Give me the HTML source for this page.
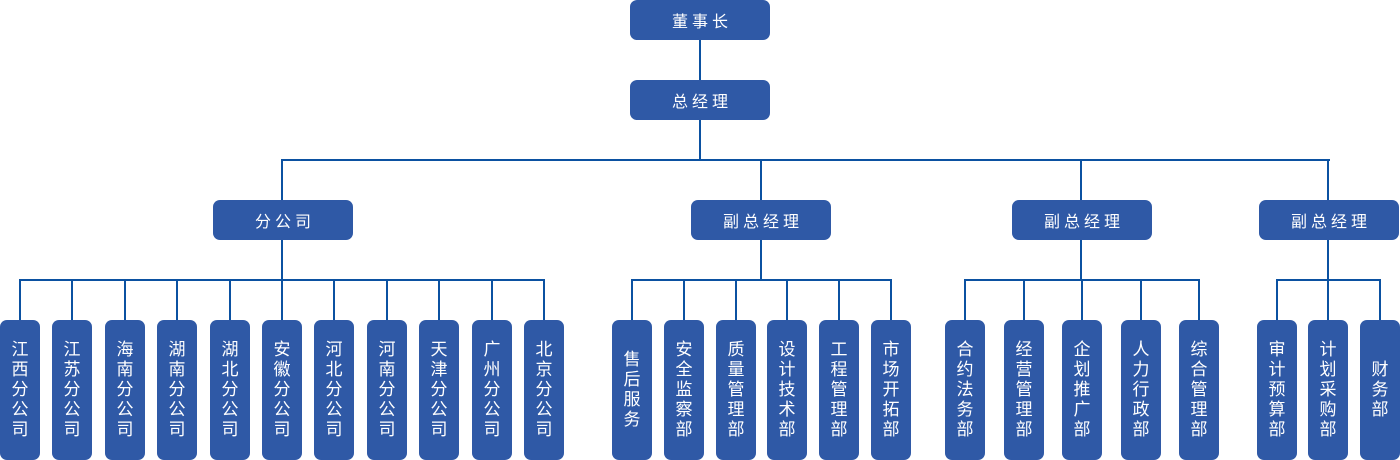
<!DOCTYPE html>
<html><head><meta charset="utf-8">
<style>
*{margin:0;padding:0;box-sizing:border-box}
html,body{width:1400px;height:460px;background:#fff;overflow:hidden}
body{position:relative;font-family:"Liberation Sans","Noto Sans CJK SC",sans-serif}
.b{position:absolute;background:#2f59a6;color:#fff;border-radius:7px;display:flex;align-items:center;justify-content:center;text-align:center}
.h{width:140px;height:40px;font-size:16px;letter-spacing:4px;text-indent:4px}
.l{width:40px;height:140px;top:320px;font-size:17px;line-height:20px}
.ln{position:absolute;background:#0b51a1}
</style></head><body>
<!-- lines -->
<div class="ln" style="left:699px;top:40px;width:2px;height:40px"></div>
<div class="ln" style="left:699px;top:120px;width:2px;height:40px"></div>
<div class="ln" style="left:281px;top:159px;width:1049px;height:2px"></div>
<div class="ln" style="left:281px;top:160px;width:2px;height:40px"></div>
<div class="ln" style="left:760px;top:160px;width:2px;height:40px"></div>
<div class="ln" style="left:1080px;top:160px;width:2px;height:40px"></div>
<div class="ln" style="left:1327px;top:160px;width:2px;height:40px"></div>
<div class="ln" style="left:281px;top:240px;width:2px;height:40px"></div>
<div class="ln" style="left:760px;top:240px;width:2px;height:40px"></div>
<div class="ln" style="left:1080px;top:240px;width:2px;height:40px"></div>
<div class="ln" style="left:1327px;top:240px;width:2px;height:40px"></div>
<div class="ln" style="left:19px;top:279px;width:526px;height:2px"></div>
<div class="ln" style="left:631px;top:279px;width:261px;height:2px"></div>
<div class="ln" style="left:964px;top:279px;width:236px;height:2px"></div>
<div class="ln" style="left:1276px;top:279px;width:105px;height:2px"></div>
<!-- leaf connectors -->
<div class="ln" style="left:19px;top:280px;width:2px;height:40px"></div>
<div class="ln" style="left:71px;top:280px;width:2px;height:40px"></div>
<div class="ln" style="left:124px;top:280px;width:2px;height:40px"></div>
<div class="ln" style="left:176px;top:280px;width:2px;height:40px"></div>
<div class="ln" style="left:229px;top:280px;width:2px;height:40px"></div>
<div class="ln" style="left:281px;top:280px;width:2px;height:40px"></div>
<div class="ln" style="left:333px;top:280px;width:2px;height:40px"></div>
<div class="ln" style="left:386px;top:280px;width:2px;height:40px"></div>
<div class="ln" style="left:438px;top:280px;width:2px;height:40px"></div>
<div class="ln" style="left:491px;top:280px;width:2px;height:40px"></div>
<div class="ln" style="left:543px;top:280px;width:2px;height:40px"></div>
<div class="ln" style="left:631px;top:280px;width:2px;height:40px"></div>
<div class="ln" style="left:683px;top:280px;width:2px;height:40px"></div>
<div class="ln" style="left:735px;top:280px;width:2px;height:40px"></div>
<div class="ln" style="left:786px;top:280px;width:2px;height:40px"></div>
<div class="ln" style="left:838px;top:280px;width:2px;height:40px"></div>
<div class="ln" style="left:890px;top:280px;width:2px;height:40px"></div>
<div class="ln" style="left:964px;top:280px;width:2px;height:40px"></div>
<div class="ln" style="left:1023px;top:280px;width:2px;height:40px"></div>
<div class="ln" style="left:1081px;top:280px;width:2px;height:40px"></div>
<div class="ln" style="left:1140px;top:280px;width:2px;height:40px"></div>
<div class="ln" style="left:1198px;top:280px;width:2px;height:40px"></div>
<div class="ln" style="left:1276px;top:280px;width:2px;height:40px"></div>
<div class="ln" style="left:1327px;top:280px;width:2px;height:40px"></div>
<div class="ln" style="left:1379px;top:280px;width:2px;height:40px"></div>
<!-- header boxes -->
<div class="b h" style="left:630px;top:0">董事长</div>
<div class="b h" style="left:630px;top:80px">总经理</div>
<div class="b h" style="left:213px;top:200px">分公司</div>
<div class="b h" style="left:691px;top:200px">副总经理</div>
<div class="b h" style="left:1012px;top:200px">副总经理</div>
<div class="b h" style="left:1259px;top:200px">副总经理</div>
<!-- leaves group 1 -->
<div class="b l" style="left:0">江<br>西<br>分<br>公<br>司</div>
<div class="b l" style="left:52px">江<br>苏<br>分<br>公<br>司</div>
<div class="b l" style="left:105px">海<br>南<br>分<br>公<br>司</div>
<div class="b l" style="left:157px">湖<br>南<br>分<br>公<br>司</div>
<div class="b l" style="left:210px">湖<br>北<br>分<br>公<br>司</div>
<div class="b l" style="left:262px">安<br>徽<br>分<br>公<br>司</div>
<div class="b l" style="left:314px">河<br>北<br>分<br>公<br>司</div>
<div class="b l" style="left:367px">河<br>南<br>分<br>公<br>司</div>
<div class="b l" style="left:419px">天<br>津<br>分<br>公<br>司</div>
<div class="b l" style="left:472px">广<br>州<br>分<br>公<br>司</div>
<div class="b l" style="left:524px">北<br>京<br>分<br>公<br>司</div>
<!-- group 2 -->
<div class="b l" style="left:612px">售<br>后<br>服<br>务</div>
<div class="b l" style="left:664px">安<br>全<br>监<br>察<br>部</div>
<div class="b l" style="left:716px">质<br>量<br>管<br>理<br>部</div>
<div class="b l" style="left:767px">设<br>计<br>技<br>术<br>部</div>
<div class="b l" style="left:819px">工<br>程<br>管<br>理<br>部</div>
<div class="b l" style="left:871px">市<br>场<br>开<br>拓<br>部</div>
<!-- group 3 -->
<div class="b l" style="left:945px">合<br>约<br>法<br>务<br>部</div>
<div class="b l" style="left:1004px">经<br>营<br>管<br>理<br>部</div>
<div class="b l" style="left:1062px">企<br>划<br>推<br>广<br>部</div>
<div class="b l" style="left:1121px">人<br>力<br>行<br>政<br>部</div>
<div class="b l" style="left:1179px">综<br>合<br>管<br>理<br>部</div>
<!-- group 4 -->
<div class="b l" style="left:1257px">审<br>计<br>预<br>算<br>部</div>
<div class="b l" style="left:1308px">计<br>划<br>采<br>购<br>部</div>
<div class="b l" style="left:1360px">财<br>务<br>部</div>
</body></html>
